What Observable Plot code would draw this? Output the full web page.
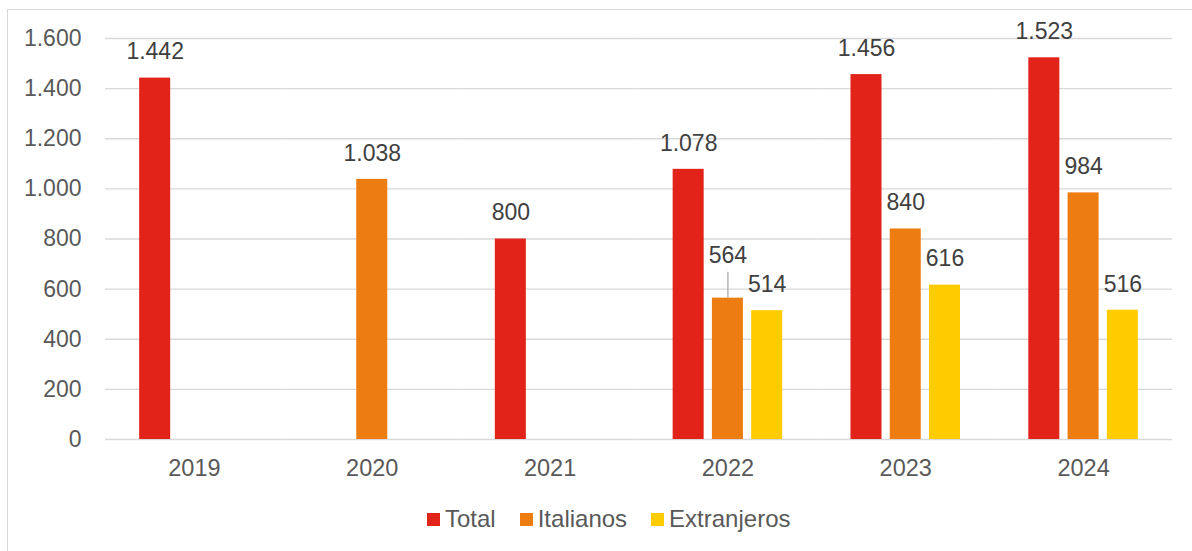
<!DOCTYPE html>
<html>
<head>
<meta charset="utf-8">
<script src="https://cdn.jsdelivr.net/npm/d3@7"></script>
<script src="https://cdn.jsdelivr.net/npm/@observablehq/plot@0.6"></script>
<style>
  html, body { margin: 0; padding: 0; background: #fff; }
  body { width: 1192px; height: 551px; position: relative; overflow: hidden; font-family: "Liberation Sans", Arial, sans-serif; }
  #frame { position: absolute; left: 7px; top: 9px; width: 1300px; height: 700px; border: 1.5px solid #d9d9d9; box-sizing: border-box; }
  #chart { position: absolute; left: 0; top: 0; }
  #legend { position: absolute; left: 427px; top: 507px; display: flex; align-items: center; font-size: 24px; line-height: 24px; color: #595959; }
  #legend .item { display: flex; align-items: center; margin-right: 24px; }
  #legend .sw { width: 13px; height: 13px; margin-right: 5px; }
</style>
</head>
<body>
<div id="frame"></div>
<div id="chart"></div>
<div id="legend"></div>
<script>
const years = ["2019", "2020", "2021", "2022", "2023", "2024"];
const series = ["Total", "Italianos", "Extranjeros"];
const total = [1442, null, 800, 1078, 1456, 1523];
const italianos = [null, 1038, null, 564, 840, 984];
const extranjeros = [null, null, null, 514, 616, 516];
const colors = ["#e2231a", "#ee7d11", "#ffcc00"];
const yTicks = [0, 200, 400, 600, 800, 1000, 1200, 1400, 1600];

const values = {Total: total, Italianos: italianos, Extranjeros: extranjeros};
const data = [];
years.forEach((year, i) => {
  series.forEach(s => {
    const v = values[s][i];
    if (v != null) data.push({year, series: s, value: v});
  });
});

const locale = d3.formatLocale({decimal: ",", thousands: ".", grouping: [3], currency: ["", "€"]});
const fmt = locale.format(",d");

// label that is pulled up with a leader line (2022 Italianos)
const isLeader = d => d.year === "2022" && d.series === "Italianos";

const chart = Plot.plot({
  width: 1192,
  height: 500,
  marginTop: 38,
  marginBottom: 61,
  marginLeft: 105,
  marginRight: 20,
  style: {fontFamily: "'Liberation Sans', Arial, sans-serif", fontSize: "23px", color: "#595959", background: "transparent"},
  fx: {domain: years, padding: 0, round: false, label: null},
  x: {domain: series, paddingInner: 0.21, paddingOuter: 0.87, round: false, axis: null},
  y: {domain: [0, 1600], label: null},
  color: {domain: series, range: colors},
  marks: [
    Plot.gridY(yTicks, {stroke: "#d9d9d9", strokeOpacity: 1, strokeWidth: 1.4}),
    Plot.axisY(yTicks, {tickSize: 0, tickPadding: 24, tickFormat: fmt, label: null, fill: "#595959", fontSize: 23}),
    Plot.axisFx({anchor: "bottom", tickSize: 0, tickPadding: 20, label: null, fill: "#595959", fontSize: 23.5}),
    Plot.barY(data, {fx: "year", x: "series", y: "value", fill: "series"}),
    Plot.text(data.filter(d => !isLeader(d)), {fx: "year", x: "series", y: "value", text: d => fmt(d.value), dy: -26, fill: "#404040", fontSize: 23}),
    Plot.text(data.filter(isLeader), {fx: "year", x: "series", y: "value", text: d => fmt(d.value), dy: -43, fill: "#404040", fontSize: 23}),
    Plot.ruleX(data.filter(isLeader), {fx: "year", x: "series", y1: "value", y2: "value", insetTop: -26, stroke: "#a6a6a6", strokeWidth: 1.2})
  ]
});
document.getElementById("chart").appendChild(chart);

const legend = document.getElementById("legend");
series.forEach((s, i) => {
  const item = document.createElement("div");
  item.className = "item";
  const sw = document.createElement("span");
  sw.className = "sw";
  sw.style.background = colors[i];
  const label = document.createElement("span");
  label.textContent = s;
  item.appendChild(sw);
  item.appendChild(label);
  legend.appendChild(item);
});
</script>
</body>
</html>
